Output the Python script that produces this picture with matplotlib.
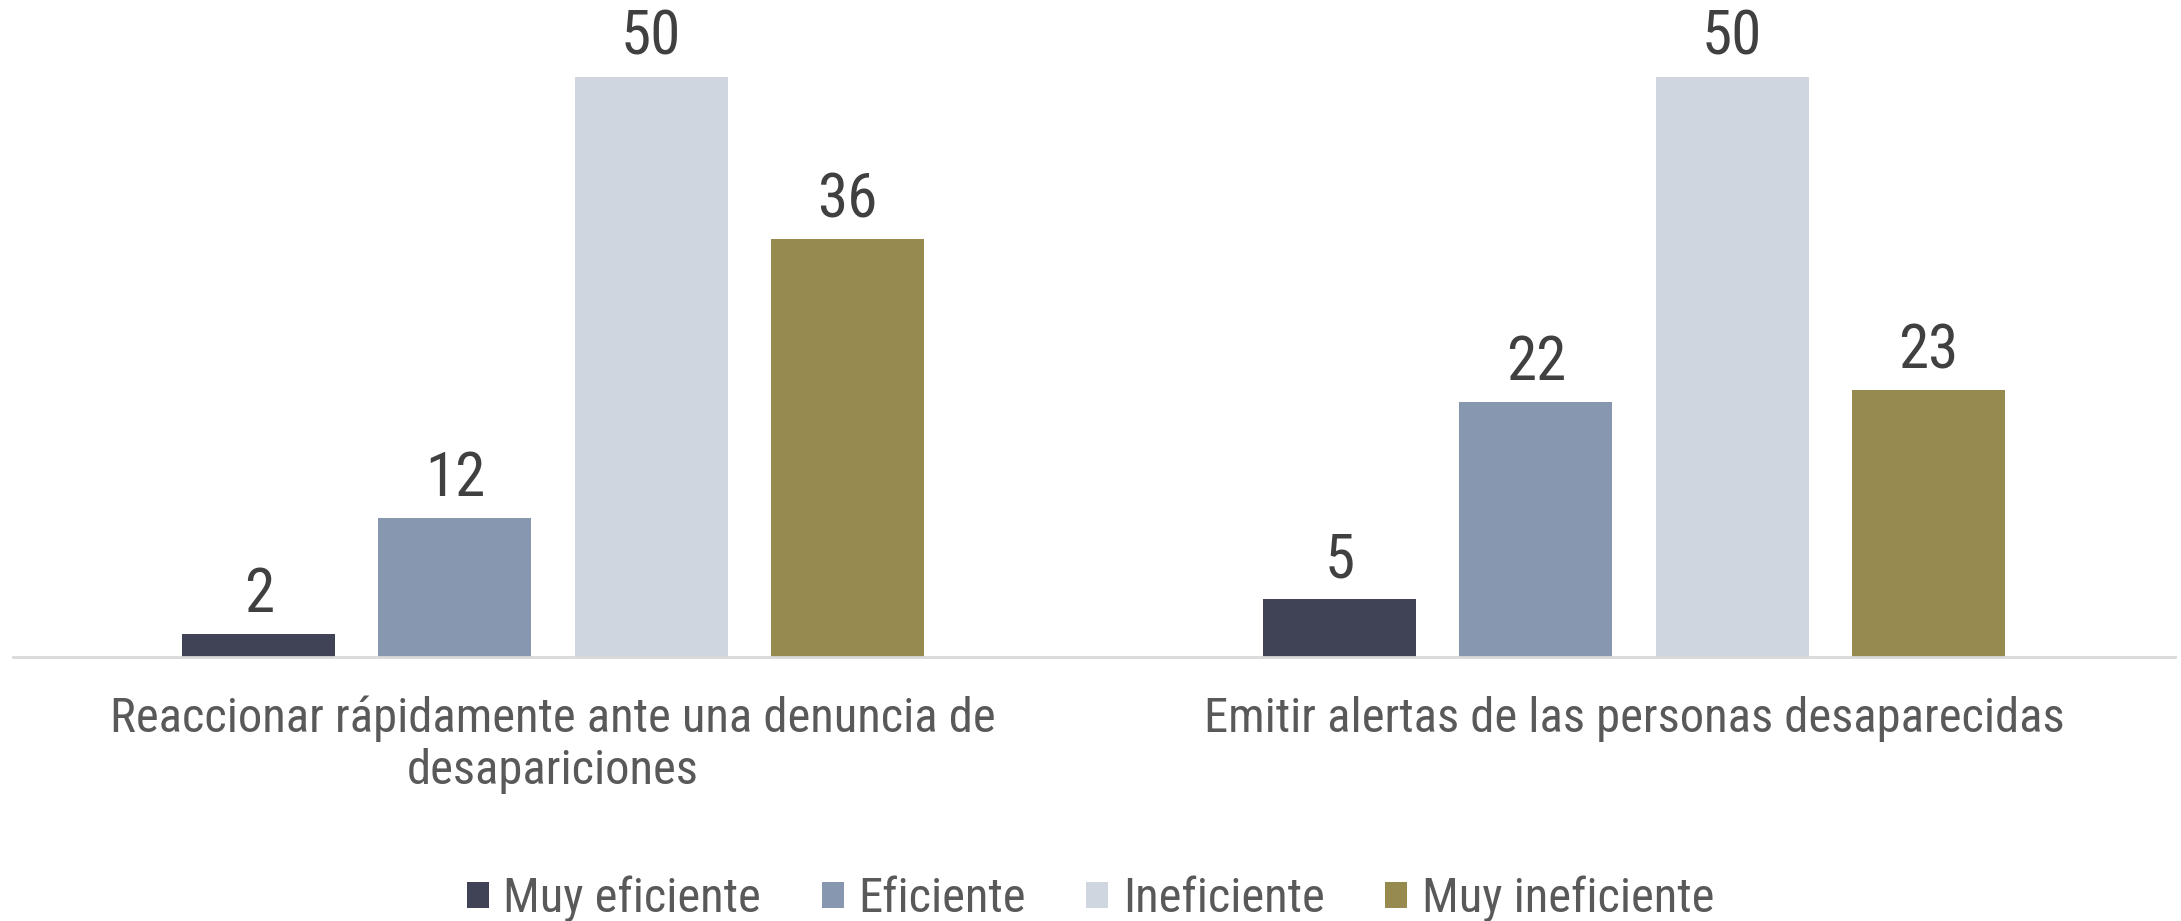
import matplotlib
matplotlib.use("Agg")
import matplotlib.pyplot as plt
from matplotlib import font_manager
import numpy as np

categories = ["Reaccionar rápidamente ante una denuncia de\ndesapariciones",
              "Emitir alertas de las personas desaparecidas"]
series_names = ["Muy eficiente", "Eficiente", "Ineficiente", "Muy ineficiente"]
muy_eficiente = [2, 5]
eficiente = [12, 22]
ineficiente = [50, 50]
muy_ineficiente = [36, 23]
values = [muy_eficiente, eficiente, ineficiente, muy_ineficiente]
colors = ["#404356", "#8797B0", "#CFD6E0", "#968A4E"]

names = {f.name for f in font_manager.fontManager.ttflist}
fam = [f for f in ["Liberation Sans Narrow", "Roboto Condensed", "Liberation Sans", "DejaVu Sans"] if f in names]
plt.rcParams['font.family'] = fam

W, H = 2181, 921
fig = plt.figure(figsize=(W / 100, H / 100), dpi=100)
ax = fig.add_axes([12.5 / W, (H - 657) / H, 2162 / W, 657 / H])

x = np.arange(len(categories))
width = 0.1415
step = 0.1815
for i, (name, vals, c) in enumerate(zip(series_names, values, colors)):
    pos = x + (i - 1.5) * step
    bars = ax.bar(pos, vals, width=width, color=c, label=name)
    ax.bar_label(bars, padding=7, fontsize=44, color="#404040")

ax.set_xlim(-0.5, 1.5)
ax.set_ylim(0, 56.6)
ax.set_yticks([])
ax.set_xticks(x)
ax.set_xticklabels(categories, fontsize=35, color="#595959", linespacing=1.15)
ax.tick_params(axis='x', length=0, pad=28)
for s in ["top", "right", "left"]:
    ax.spines[s].set_visible(False)
ax.spines["bottom"].set_color("#D9D9D9")
ax.spines["bottom"].set_linewidth(2)

fig.legend(loc="center", bbox_to_anchor=(0.5, 1 - 899 / H), ncol=4, frameon=False,
           fontsize=35, labelcolor="#595959", handlelength=0.45, handleheight=0.45,
           handletextpad=0.3, columnspacing=1.25, borderpad=0.2)

fig.savefig("out.png", dpi=100)
